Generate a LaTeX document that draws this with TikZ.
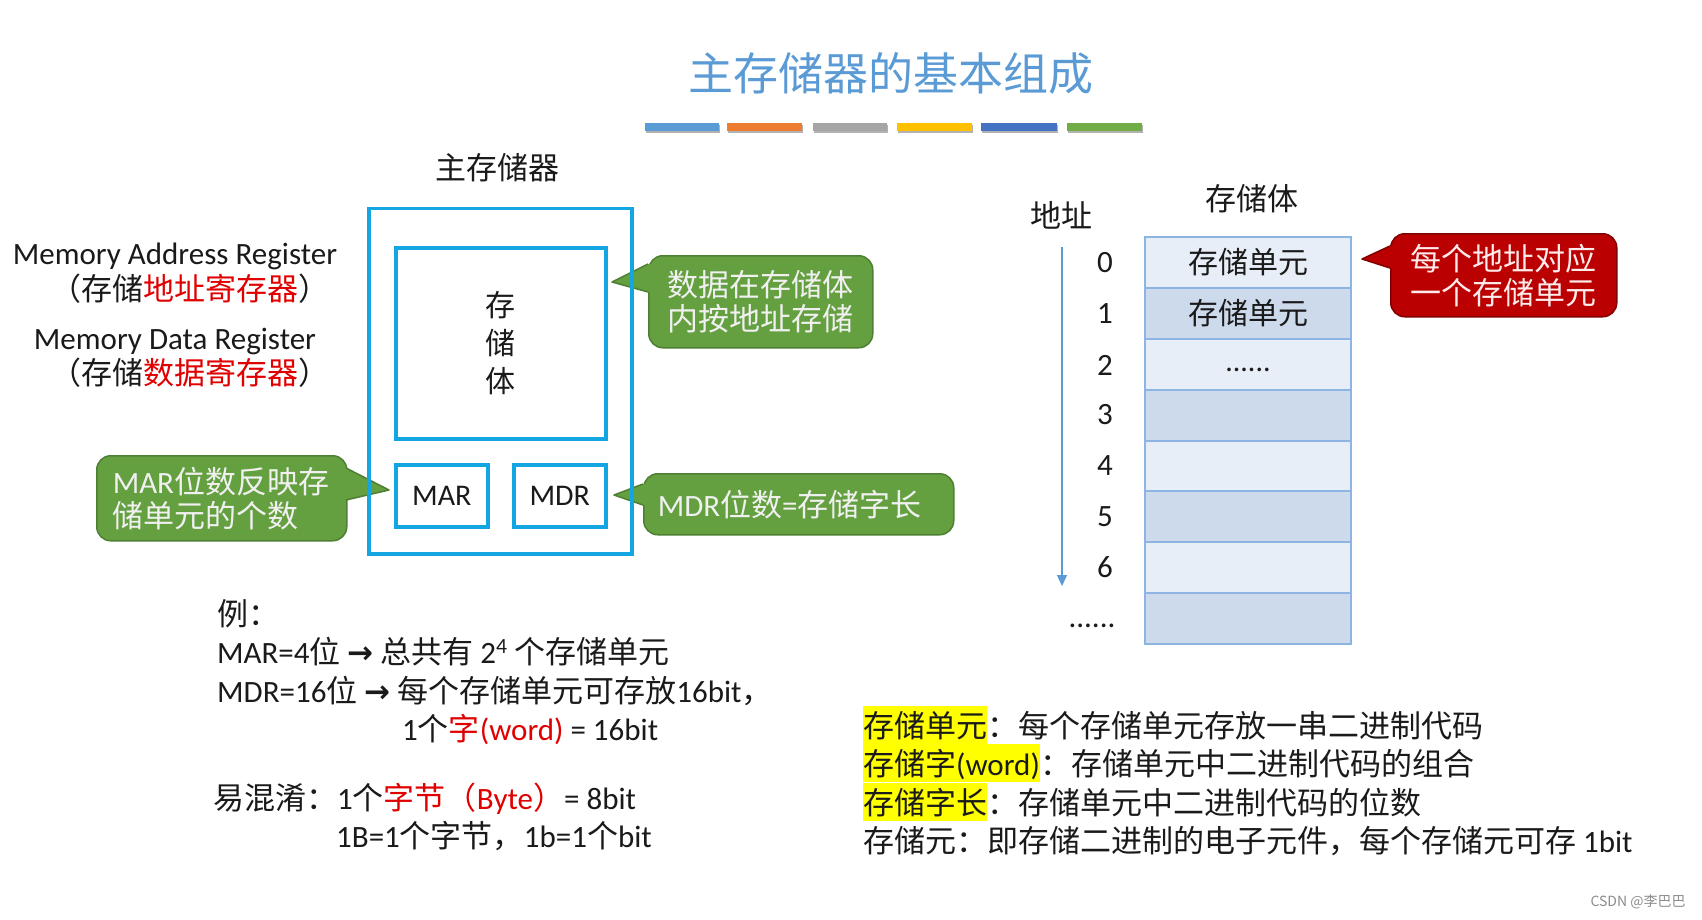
\documentclass[tikz,border=0pt]{standalone}
\usepackage{fontspec}
\setmainfont{Noto Sans CJK SC}
\newfontfamily\en{Carlito}
\newfontfamily\djv{DejaVu Sans}
\usetikzlibrary{arrows.meta,shadows}
\definecolor{titleblue}{HTML}{5B9BD5}
\definecolor{barA}{HTML}{5B9BD5}
\definecolor{barB}{HTML}{ED7D31}
\definecolor{barC}{HTML}{A5A5A5}
\definecolor{barD}{HTML}{FFC000}
\definecolor{barE}{HTML}{4472C4}
\definecolor{barF}{HTML}{70AD47}
\definecolor{boxblue}{HTML}{14A6E2}
\definecolor{calgreen}{HTML}{64A040}
\definecolor{calgreenD}{HTML}{4E7F33}
\definecolor{calred}{HTML}{BA0000}
\definecolor{calredD}{HTML}{820000}
\definecolor{cellL}{HTML}{E8EEF7}
\definecolor{cellD}{HTML}{CDDAEB}
\definecolor{cellB}{HTML}{8DB4E2}
\definecolor{txtred}{HTML}{E00000}
\definecolor{hl}{HTML}{FFFF00}
\definecolor{ink}{HTML}{1A1A1A}
\newcommand{\myarr}{{\djv\bfseries →}}
\begin{document}
\begin{tikzpicture}[x=1pt,y=-1pt,
  txt/.style={inner sep=0pt, text=ink, font=\fontsize{31}{36}\selectfont},
  entxt/.style={txt, font=\en\fontsize{31}{36}\selectfont},
  titletxt/.style={inner sep=0pt, text=titleblue, font=\fontsize{45}{50}\selectfont},
  bar/.style={inner sep=0pt, minimum height=8, fill=#1,
    drop shadow={shadow xshift=1pt, shadow yshift=-2pt, opacity=0.3, fill=black}},
  bluebox/.style={draw=boxblue, line width=3.5, fill=white, inner sep=0pt},
  gcall/.style={rounded corners=14, fill=calgreen, draw=calgreenD, line width=1.5,
    text=white!94!black, font=\fontsize{31}{34}\selectfont, inner sep=0pt},
  rcall/.style={rounded corners=14, fill=calred, draw=calredD, line width=1.5,
    text=white!92!red, font=\fontsize{31}{34}\selectfont, inner sep=0pt},
  cell/.style={minimum width=206, minimum height=50.9, draw=cellB, line width=2,
    inner sep=0pt, text=ink, font=\fontsize{30}{34}\selectfont},
  hlbox/.style={txt, fill=hl, text height=31, text depth=7},
  addr/.style={draw=titleblue, line width=1.4, -{Triangle[width=10pt,length=11pt]}}
]
\useasboundingbox (0,0) rectangle (1702,920);
\fill[white] (0,0) rectangle (1702,920);

% title and colour bars
\node[titletxt] (title) at (891,73) {主存储器的基本组成};
\node[bar=barA, minimum width=74] (bar1) at (682,127) {};
\node[bar=barB, minimum width=75] (bar2) at (764.5,127) {};
\node[bar=barC, minimum width=74] (bar3) at (850,127) {};
\node[bar=barD, minimum width=75] (bar4) at (934.5,127) {};
\node[bar=barE, minimum width=76] (bar5) at (1019,127) {};
\node[bar=barF, minimum width=75] (bar6) at (1104.5,127) {};

% left labels
\node[entxt] (marEn) at (175,256) {Memory Address Register};
\node[txt] (marCn) at (190,289) {（存储\textcolor{txtred}{地址寄存器}）};
\node[entxt] (mdrEn) at (175,341) {Memory Data Register};
\node[txt] (mdrCn) at (190,373) {（存储\textcolor{txtred}{数据寄存器}）};

% green callouts
\node[gcall, minimum width=224, minimum height=92, anchor=north west, align=center] (c1) at (648,255) {数据在存储体\\内按地址存储};
\coordinate (t1) at (612,282);
\fill[calgreen] (t1) -- (648,264) -- (651,264) -- (651,292) -- (648,292) -- cycle;
\draw[calgreenD, line width=1.5, line join=round] (648,264) -- (t1) -- (648,292);

\node[gcall, minimum width=250, minimum height=85, anchor=north west, text width=218, align=left] (c2) at (96,455) {{\en MAR}位数反映存\\储单元的个数};
\coordinate (t2) at (389,490);
\fill[calgreen] (t2) -- (346,468) -- (343,468) -- (343,500) -- (346,500) -- cycle;
\draw[calgreenD, line width=1.5, line join=round] (346,468) -- (t2) -- (346,500);

\node[gcall, minimum width=310, minimum height=61, anchor=north west, text width=282, align=left] (c3) at (643,473) {{\en MDR}位数{\en =}存储字长};
\coordinate (t3) at (614,495);
\fill[calgreen] (t3) -- (643,484) -- (646,484) -- (646,505) -- (643,505) -- cycle;
\draw[calgreenD, line width=1.5, line join=round] (643,484) -- (t3) -- (643,505);

% main memory
\node[txt] (mmlabel) at (497,168) {主存储器};
\node[bluebox, fill=none, minimum width=263, minimum height=345, anchor=north west] (outer) at (367,207) {};
\node[bluebox, minimum width=210, minimum height=191, anchor=north west, align=center,
  font=\fontsize{30}{38}\selectfont, text=ink] (body) at (394,246) {存\\储\\体};
\node[bluebox, minimum width=92, minimum height=62, anchor=north west, text=ink,
  font=\en\fontsize{30}{34}\selectfont] (mar) at (394,463) {MAR};
\node[bluebox, minimum width=92, minimum height=62, anchor=north west, text=ink,
  font=\en\fontsize{30}{34}\selectfont] (mdr) at (512,463) {MDR};

% right: storage body table
\node[txt] (sblabel) at (1252,199) {存储体};
\node[txt] (addrlabel) at (1061,215) {地址};
\coordinate (ad0) at (1062,247);
\coordinate (ad1) at (1062,586);
\draw[addr] (ad0) -- (ad1);

\node[cell, fill=cellL] (r0) at (1248,262.4) {存储单元};
\node[cell, fill=cellD] (r1) at (1248,313.3) {存储单元};
\node[cell, fill=cellL, font=\en\fontsize{30}{34}\selectfont] (r2) at (1248,364.2) {\strut ......};
\node[cell, fill=cellD] (r3) at (1248,415.1) {};
\node[cell, fill=cellL] (r4) at (1248,466.0) {};
\node[cell, fill=cellD] (r5) at (1248,516.9) {};
\node[cell, fill=cellL] (r6) at (1248,567.8) {};
\node[cell, fill=cellD] (r7) at (1248,618.7) {};

\node[entxt] (n0) at (1105,263) {0};
\node[entxt] (n1) at (1105,314) {1};
\node[entxt] (n2) at (1105,365) {2};
\node[entxt] (n3) at (1105,415) {3};
\node[entxt] (n4) at (1105,466) {4};
\node[entxt] (n5) at (1105,517) {5};
\node[entxt] (n6) at (1105,567) {6};
\node[entxt] (ndots) at (1092,626) {......};

% red callout
\node[rcall, minimum width=226, minimum height=83, anchor=north west, align=center] (c4) at (1390,233) {每个地址对应\\一个存储单元};
\coordinate (t4) at (1362,259);
\fill[calred] (t4) -- (1390,246) -- (1393,246) -- (1393,268) -- (1390,268) -- cycle;
\draw[calredD, line width=1.5, line join=round] (1390,246) -- (t4) -- (1390,268);

% bottom-left example text
\node[txt, anchor=base west] (ex0) at (217,625) {例：};
\node[txt, anchor=base west] (ex1) at (217,663) {{\en MAR=4}位 \myarr{} 总共有 {\en 2\textsuperscript{4}} 个存储单元};
\node[txt, anchor=base west] (ex2) at (217,702) {{\en MDR=16}位 \myarr{} 每个存储单元可存放{\en 16bit}，};
\node[txt, anchor=base west] (ex3) at (402,740) {{\en 1}个\textcolor{txtred}{字{\en (word)}} {\en = 16bit}};
\node[txt, anchor=base west] (ex4) at (213,809) {易混淆：{\en 1}个\textcolor{txtred}{字节（{\en Byte}）}{\en = 8bit}};
\node[txt, anchor=base west] (ex5) at (336,847) {{\en 1B=1}个字节，{\en 1b=1}个{\en bit}};

% bottom-right definitions
\node[hlbox, anchor=base west] (d1a) at (863,737) {存储单元};
\node[txt, anchor=base west] (d1b) at (d1a.base east) {：每个存储单元存放一串二进制代码};
\node[hlbox, anchor=base west] (d2a) at (863,775) {存储字{\en (word)}};
\node[txt, anchor=base west] (d2b) at (d2a.base east) {：存储单元中二进制代码的组合};
\node[hlbox, anchor=base west] (d3a) at (863,814) {存储字长};
\node[txt, anchor=base west] (d3b) at (d3a.base east) {：存储单元中二进制代码的位数};
\node[txt, anchor=base west] (d4) at (863,852) {存储元：即存储二进制的电子元件，每个存储元可存 {\en 1bit}};

% watermark
\node[inner sep=0pt, text=black!45, font=\fontsize{14}{16}\selectfont] (wm) at (1638,902) {CSDN @李巴巴};
\end{tikzpicture}
\end{document}
